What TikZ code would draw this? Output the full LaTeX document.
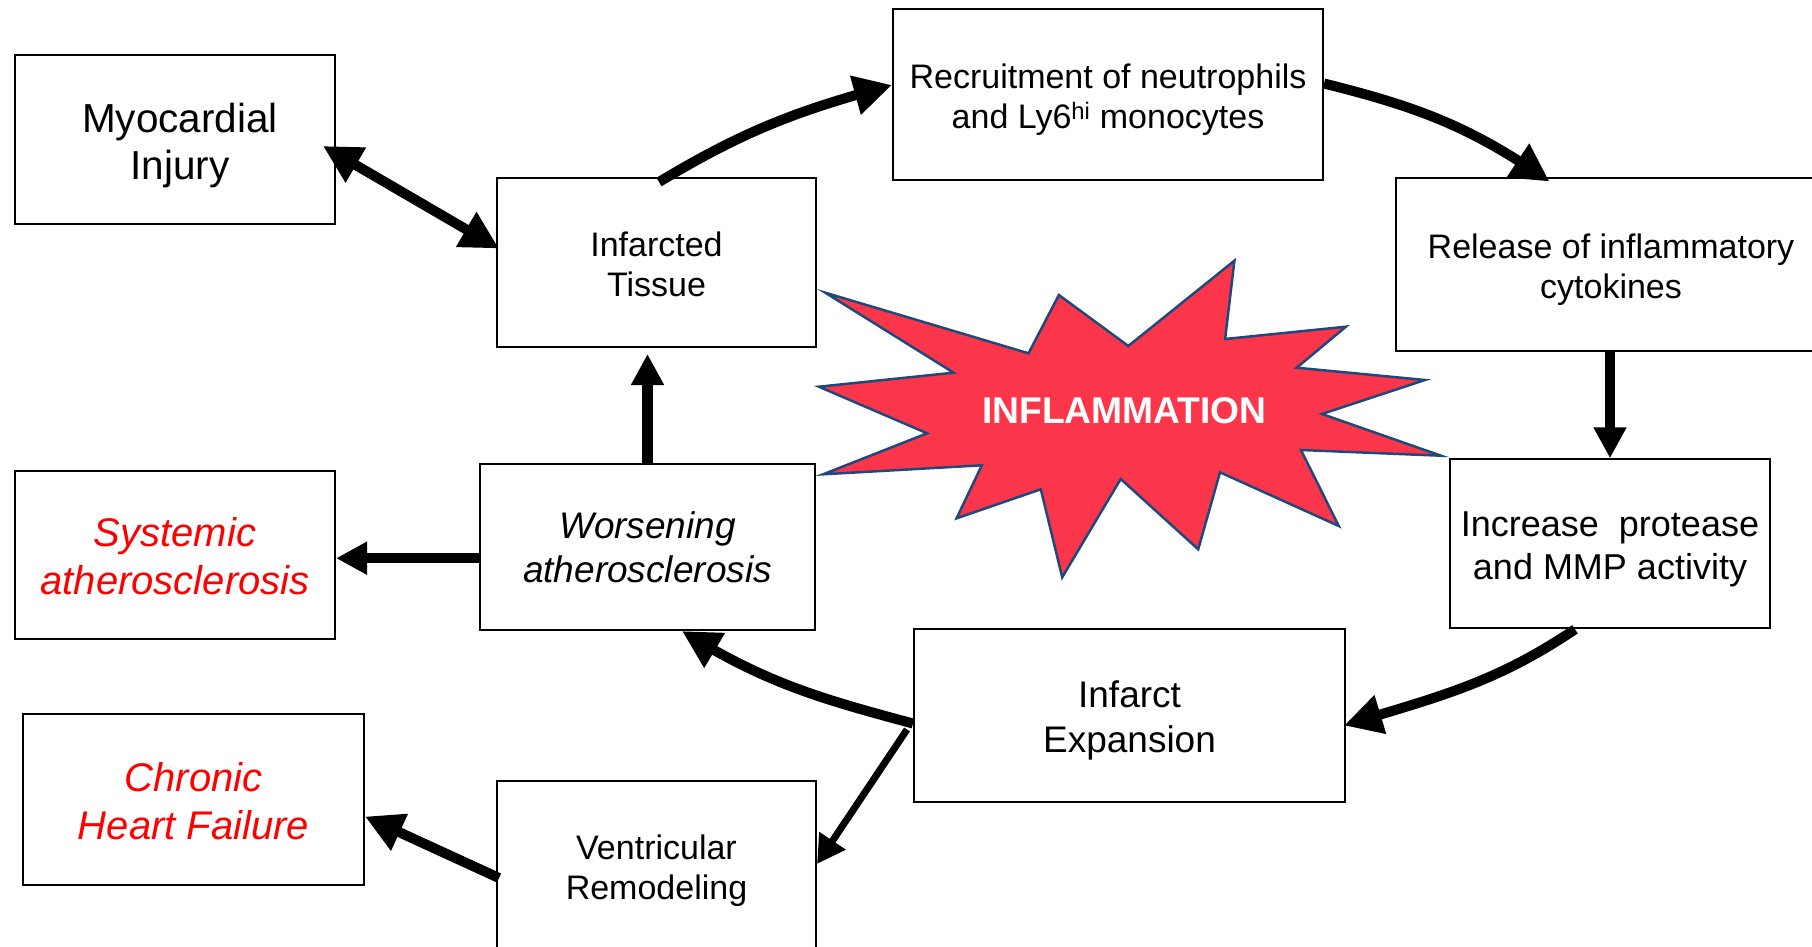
\documentclass[tikz,border=0pt]{standalone}
\usepackage{fontspec}
\setmainfont{Liberation Sans}
\usetikzlibrary{arrows.meta,bending}
\definecolor{starred}{RGB}{252,54,74}
\definecolor{starline}{RGB}{31,73,125}
\newcommand{\boxtext}[2]{\raisebox{-#1}[\height][\depth]{\begin{tabular}{@{}c@{}}#2\end{tabular}}}
\tikzset{
  box/.style={draw=black, line width=2pt, fill=white, align=center, inner sep=0pt},
  fs34/.style={font=\fontsize{34}{40}\selectfont},
  fs36/.style={font=\fontsize{36}{43}\selectfont},
  fs37/.style={font=\fontsize{37}{45}\selectfont},
  fs40/.style={font=\fontsize{40.5}{47}\selectfont},
  redit/.style={text=red, font=\fontsize{40}{48}\selectfont\itshape},
  bigarr/.style={line width=10pt, -{Triangle[length=38pt,width=38pt]}},
  dblarr/.style={line width=10pt, {Triangle[length=38pt,width=38pt]}-{Triangle[length=38pt,width=38pt]}},
  vertarr/.style={line width=10.5pt, -{Triangle[length=31pt,width=31pt]}},
  thinarr/.style={line width=7pt, -{Triangle[length=28pt,width=30pt]}},
}
\begin{document}
\begin{tikzpicture}[x=1pt,y=1pt]
\useasboundingbox (0,0) rectangle (1812,-947);
\clip (0,0) rectangle (1812,-947);

% star
\filldraw[fill=starred, draw=starline, line width=2.5pt, line join=miter]
 (825.3,-292.7) -- (1028.5,-353.3) -- (1058.9,-295) -- (1128.3,-346) -- (1234.4,-260.7)
 -- (1225.1,-339) -- (1345.9,-326.7) -- (1296.7,-367.7) -- (1425,-380) -- (1321.9,-414)
 -- (1441,-455.7) -- (1300.9,-450) -- (1338.8,-526) -- (1220,-472.3) -- (1198.2,-549.3)
 -- (1120.7,-479) -- (1062.2,-577.3) -- (1040.8,-489.3) -- (956.6,-518.3) -- (981.8,-465.3)
 -- (823.1,-474.3) -- (927.1,-433.3) -- (818.9,-386.7) -- (953.6,-372.7) -- cycle;
\node[text=white, font=\fontsize{37.2}{40}\selectfont\bfseries] (infl) at (1124.4,-410.2) {INFLAMMATION};

% boxes
\node[box, fs40, minimum width=320pt, minimum height=169pt] (myo) at (175,-139.5) {\boxtext{7.2pt}{\hspace*{10pt}Myocardial\\\hspace*{10pt}Injury}};
\node[box, fs34, minimum width=319pt, minimum height=169pt] (inf) at (656.5,-262.5) {\boxtext{6pt}{Infarcted\\Tissue}};
\node[box, fs34, minimum width=430pt, minimum height=171pt] (rec) at (1108,-94.5) {\boxtext{5.8pt}{Recruitment of neutrophils\\and Ly6\textsuperscript{hi} monocytes}};
\node[box, fs34, minimum width=430pt, minimum height=172.5pt] (rel) at (1611,-264.3) {\boxtext{6.4pt}{Release of inflammatory\\cytokines}};
\node[box, fs36, minimum width=320pt, minimum height=169pt] (inc) at (1610,-543.8) {\boxtext{5.8pt}{Increase\ \ protease\\and MMP activity}};
\node[box, fs37, minimum width=431pt, minimum height=173pt] (exp) at (1129.5,-715.5) {\boxtext{5.2pt}{Infarct\\Expansion}};
\node[box, minimum width=335pt, minimum height=165.7pt, font=\fontsize{37}{44}\selectfont\itshape] (wor) at (647.5,-547.2) {\boxtext{4.7pt}{Worsening\\atherosclerosis}};
\node[box, redit, minimum width=320pt, minimum height=168pt] (sys) at (175,-555) {\boxtext{6.3pt}{Systemic\\atherosclerosis}};
\node[box, redit, minimum width=341pt, minimum height=171pt] (chf) at (193.5,-799.5) {\boxtext{6.3pt}{Chronic\\Heart Failure}};
\node[box, fs34, minimum width=319pt, minimum height=169pt] (ven) at (656.5,-865.5) {\boxtext{5.8pt}{Ventricular\\Remodeling}};

% connectors
\draw[dblarr] ([xshift=-13pt,yshift=-6.5pt]myo.east) -- ([xshift=3pt,yshift=14pt]inf.west);
\draw[bigarr] ([xshift=2.5pt,yshift=-5pt]inf.north) to[out=31,in=195] ([yshift=9.5pt]rec.west);
\draw[bigarr] ([yshift=11pt]rec.east) to[out=-14,in=145] ([xshift=154.5pt,yshift=-4.5pt]rel.north west);
\draw[vertarr] (inc.north |- rel.south) -- (inc.north);
\draw[bigarr] ([xshift=-35pt]inc.south) to[out=214,in=17] ([xshift=-2pt,yshift=-10pt]exp.east);
\draw[bigarr] ([yshift=-8pt]exp.west) to[out=165,in=-32] ([xshift=34.5pt]wor.south);
\draw[thinarr] ([xshift=-6pt,yshift=-14pt]exp.west) -- ([yshift=1.5pt]ven.east);
\draw[vertarr, shorten >=6pt] (wor.north) -- (wor.north |- inf.south);
\draw[vertarr] ([yshift=-11pt]wor.west) -- ([yshift=-11pt]wor.west -| sys.east);
\draw[bigarr] ([xshift=3pt,yshift=-12.5pt]ven.west) -- ([yshift=-17pt]chf.east);
\end{tikzpicture}
\end{document}
